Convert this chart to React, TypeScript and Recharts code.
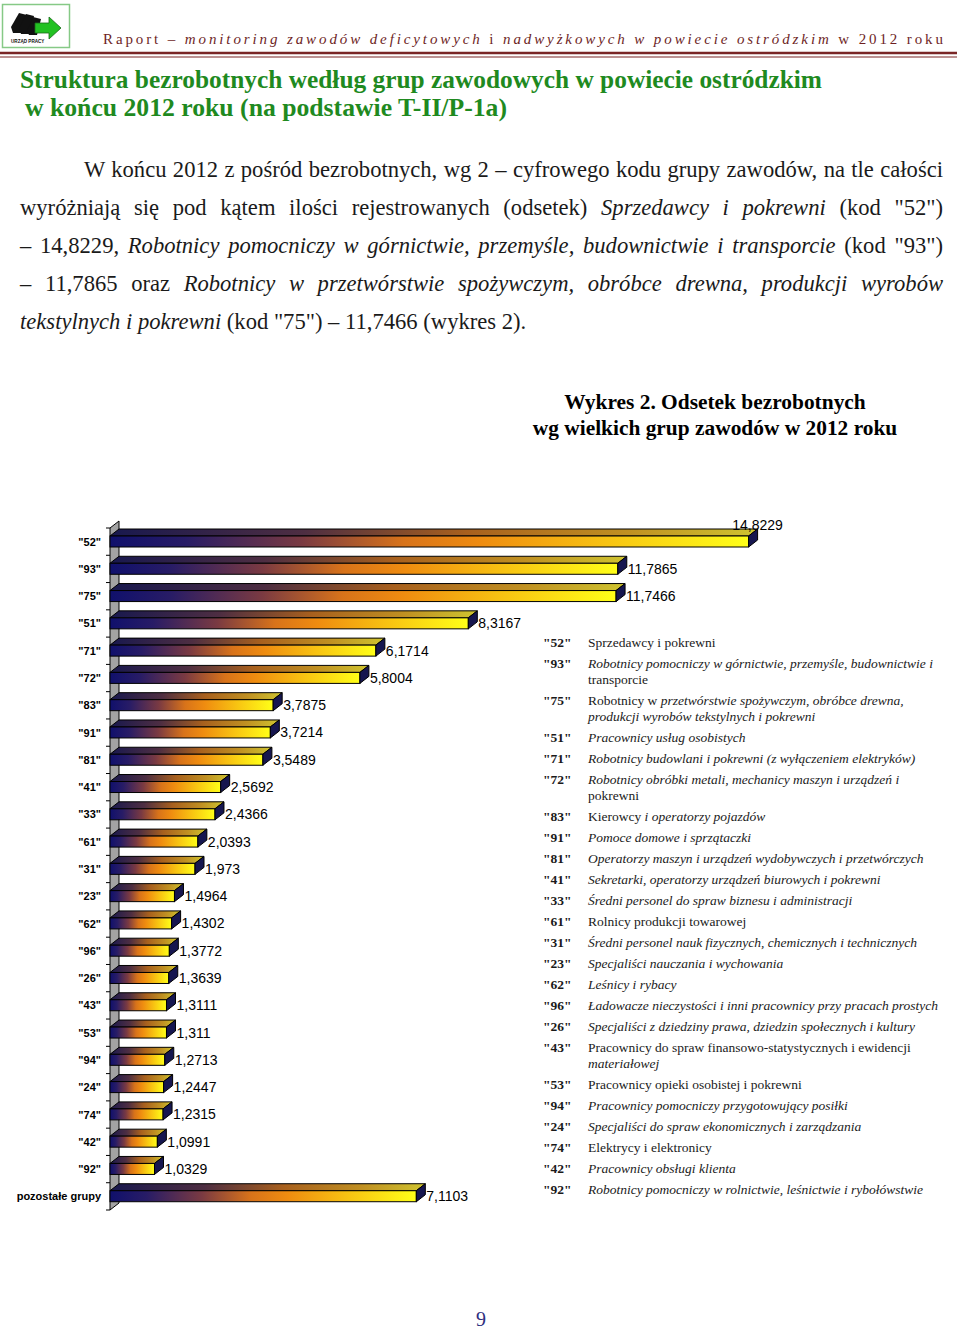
import React from 'react';
import { BarChart, Bar, XAxis, YAxis, ReferenceArea, LabelList } from 'recharts';

// ---------- DATA ----------
const categories = [
  '"52"', '"93"', '"75"', '"51"', '"71"', '"72"', '"83"', '"91"', '"81"', '"41"',
  '"33"', '"61"', '"31"', '"23"', '"62"', '"96"', '"26"', '"43"', '"53"', '"94"',
  '"24"', '"74"', '"42"', '"92"', 'pozostałe grupy',
];
const values = [
  14.8229, 11.7865, 11.7466, 8.3167, 6.1714, 5.8004, 3.7875, 3.7214, 3.5489, 2.5692,
  2.4366, 2.0393, 1.973, 1.4964, 1.4302, 1.3772, 1.3639, 1.3111, 1.311, 1.2713,
  1.2447, 1.2315, 1.0991, 1.0329, 7.1103,
];
const X_MAX = 15.9;

type Seg = [string, boolean]; // [text, italic]
const legendCodes = [
  '"52"', '"93"', '"75"', '"51"', '"71"', '"72"', '"83"', '"91"', '"81"', '"41"',
  '"33"', '"61"', '"31"', '"23"', '"62"', '"96"', '"26"', '"43"', '"53"', '"94"',
  '"24"', '"74"', '"42"', '"92"',
];
const legendTexts: Seg[][] = [
  [['Sprzedawcy i pokrewni', false]],
  [['Robotnicy pomocniczy w górnictwie, przemyśle, budownictwie i', true], ['\n', false], ['transporcie', false]],
  [['Robotnicy w ', false], ['przetwórstwie spożywczym, obróbce drewna,', true], ['\n', false], ['produkcji wyrobów tekstylnych i pokrewni', true]],
  [['Pracownicy usług osobistych', true]],
  [['Robotnicy budowlani i pokrewni (z wyłączeniem elektryków)', true]],
  [['Robotnicy obróbki metali, mechanicy maszyn i urządzeń i', true], ['\n', false], ['pokrewni', false]],
  [['Kierowcy ', false], ['i operatorzy pojazdów', true]],
  [['Pomoce domowe i sprzątaczki', true]],
  [['Operatorzy maszyn i urządzeń wydobywczych i przetwórczych', true]],
  [['Sekretarki, operatorzy urządzeń biurowych i pokrewni', true]],
  [['Średni personel do spraw  biznesu i administracji', true]],
  [['Rolnicy produkcji towarowej', false]],
  [['Średni personel nauk fizycznych, chemicznych i technicznych', true]],
  [['Specjaliści nauczania i wychowania', true]],
  [['Leśnicy i rybacy', true]],
  [['Ładowacze nieczystości i inni pracownicy przy pracach prostych', true]],
  [['Specjaliści z dziedziny prawa, dziedzin społecznych i kultury', true]],
  [['Pracownicy do spraw finansowo-statystycznych i ewidencji', false], ['\n', false], ['materiałowej', true]],
  [['Pracownicy opieki osobistej i pokrewni', false]],
  [['Pracownicy pomocniczy przygotowujący posiłki', true]],
  [['Specjaliści do spraw ekonomicznych i zarządzania', true]],
  [['Elektrycy i elektronicy', false]],
  [['Pracownicy obsługi klienta', true]],
  [['Robotnicy pomocniczy w rolnictwie, leśnictwie i rybołówstwie', true]],
];

const bodyLines: Seg[][] = [
  [['W końcu 2012 z pośród bezrobotnych, wg 2 – cyfrowego kodu grupy zawodów, na tle całości', false]],
  [['wyróżniają się pod kątem ilości rejestrowanych (odsetek) ', false], ['Sprzedawcy i pokrewni', true], [' (kod "52")', false]],
  [['– 14,8229, ', false], ['Robotnicy pomocniczy w górnictwie, przemyśle, budownictwie i transporcie', true], [' (kod "93")', false]],
  [['– 11,7865 oraz ', false], ['Robotnicy w przetwórstwie spożywczym, obróbce drewna, produkcji wyrobów', true]],
  [['tekstylnych i pokrewni', true], [' (kod "75") – 11,7466 (wykres 2).', false]],
];

const headerSegs: Seg[] = [
  ['Raport – ', false], ['monitoring zawodów deficytowych', true], [' i ', false],
  ['nadwyżkowych w powiecie ostródzkim', true], [' w 2012 roku', false],
];
const titleLines = [
  'Struktura bezrobotnych według grup zawodowych w powiecie ostródzkim',
  'w końcu 2012 roku (na podstawie T-II/P-1a)',
];
const chartTitle = ['Wykres 2. Odsetek bezrobotnych', 'wg wielkich grup zawodów w 2012 roku'];
const pageNumber = '9';

const data = categories.map((name, i) => ({ name, value: values[i] }));

// ---------- 3D helpers ----------
const DX = 9;
const DY = 7;

const Bar3D = (props: any) => {
  const { x, y, width, height } = props;
  if (width == null || height == null) return null;
  const top = `M${x},${y} L${x + DX},${y - DY} L${x + width + DX},${y - DY} L${x + width},${y} Z`;
  const side = `M${x + width},${y} L${x + width + DX},${y - DY} L${x + width + DX},${y + height - DY} L${x + width},${y + height} Z`;
  return (
    <g>
      <path d={top} fill="url(#gTop)" stroke="#000" strokeWidth={1} strokeLinejoin="round" />
      <rect x={x} y={y} width={width} height={height} fill="url(#gFront)" stroke="#000" strokeWidth={1} />
      <path d={side} fill="#16164f" stroke="#000" strokeWidth={1} strokeLinejoin="round" />
    </g>
  );
};

const Wall = (props: any) => {
  const { x, y, height } = props;
  const n = categories.length;
  const ticks = [];
  for (let k = 0; k <= n; k++) {
    const yk = y + (height * k) / n;
    ticks.push(<line key={k} x1={x - 4} y1={yk} x2={x} y2={yk} stroke="#000" strokeWidth={1} />);
  }
  const d = `M${x},${y + height} L${x + DX},${y + height - DY} L${x + DX},${y - DY} L${x},${y} Z`;
  return (
    <g>
      <path d={d} fill="#a3a3a3" stroke="#000" strokeWidth={1} />
      {ticks}
    </g>
  );
};

const fmt = (v: number) => String(v).replace('.', ',');

const ValueLabel = (props: any) => {
  const { x, y, width, height, value } = props;
  const endX = x + width + DX;
  if (value / X_MAX > 0.9) {
    return (
      <text x={endX} y={y - DY - 4} textAnchor="middle" dominantBaseline="central"
        fontFamily="Liberation Sans, Arial" fontSize={14} fill="#000">{fmt(value)}</text>
    );
  }
  return (
    <text x={endX + 1} y={y + height / 2} textAnchor="start" dominantBaseline="central"
      fontFamily="Liberation Sans, Arial" fontSize={14} fill="#000">{fmt(value)}</text>
  );
};

const CatTick = (props: any) => {
  const { x, y, payload } = props;
  return (
    <text x={x} y={y} textAnchor="end" dominantBaseline="central"
      fontFamily="Liberation Sans, Arial" fontWeight="bold" fontSize={11} fill="#000">
      {payload.value}
    </text>
  );
};

const renderSegs = (segs: Seg[]) =>
  segs.map((s, i) =>
    s[0] === '\n' ? <br key={i} /> : (
      <span key={i} style={{ fontStyle: s[1] ? 'italic' : 'normal' }}>{s[0]}</span>
    ));

const Logo = () => (
  <svg width={72} height={50} style={{ position: 'absolute', left: 1, top: 3 }}>
    <rect x={1.5} y={1.5} width={67} height={43} fill="#fff" stroke="#86c986" strokeWidth={1.5} />
    <polygon points="10,24 18,10 26,12 20,30 12,30" fill="#111" />
    <polygon points="18,26 25,11 33,13 28,31 20,31" fill="#111" />
    <polygon points="26,28 32,14 40,16 36,32 28,32" fill="#111" />
    <polygon points="34,20 48,20 48,14 60,25 48,36 48,30 34,30" fill="#22c122" stroke="#1a6a1a" strokeWidth={0.8} />
    <text x={10} y={40} fontFamily="Liberation Sans, Arial" fontWeight="bold" fontSize={4.6} fill="#111">URZĄD PRACY</text>
  </svg>
);

export default function App() {
  return (
    <div style={{ position: 'absolute', left: 0, top: 0, width: 960, height: 1335, background: '#fff', overflow: 'hidden' }}>
      <Logo />
      {/* Header */}
      <svg width={960} height={62} style={{ position: 'absolute', left: 0, top: 0 }}>
        <text x={103} y={44} textLength={840} lengthAdjust="spacing"
          fontFamily="Liberation Serif, Times New Roman" fontSize={15} fill="#6e1f1f">
          {headerSegs.map((s, i) => (
            <tspan key={i} fontStyle={s[1] ? 'italic' : 'normal'}>{s[0]}</tspan>
          ))}
        </text>
        <line x1={0} y1={53} x2={957} y2={53} stroke="#7a2626" strokeWidth={2.5} />
        <line x1={0} y1={57} x2={957} y2={57} stroke="#7a2626" strokeWidth={1} />
      </svg>
      {/* Title */}
      <svg width={960} height={130} style={{ position: 'absolute', left: 0, top: 0 }}>
        <text x={20} y={88} textLength={802} lengthAdjust="spacingAndGlyphs"
          fontFamily="Liberation Serif, Times New Roman" fontWeight="bold" fontSize={26} fill="#1f8a1f">{titleLines[0]}</text>
        <text x={25} y={116} textLength={482} lengthAdjust="spacingAndGlyphs"
          fontFamily="Liberation Serif, Times New Roman" fontWeight="bold" fontSize={26} fill="#1f8a1f">{titleLines[1]}</text>
      </svg>
      {/* Body paragraph */}
      <div style={{ position: 'absolute', left: 20, top: 151, width: 923, fontFamily: 'Liberation Serif, Times New Roman', fontSize: 22.6, color: '#1a1a1a' }}>
        {bodyLines.map((line, i) => (
          <div key={i} style={{
            height: 38, lineHeight: '38px', overflow: 'visible',
            paddingLeft: i === 0 ? 64 : 0,
            textAlign: i === bodyLines.length - 1 ? 'left' : 'justify',
            textAlignLast: i === bodyLines.length - 1 ? 'left' : 'justify',
          } as React.CSSProperties}>
            {renderSegs(line)}
          </div>
        ))}
      </div>
      {/* Chart title */}
      <div style={{ position: 'absolute', left: 465, top: 389, width: 500, textAlign: 'center', fontFamily: 'Liberation Serif, Times New Roman', fontWeight: 'bold', fontSize: 21.4, lineHeight: '26px', color: '#000' }}>
        <div>{chartTitle[0]}</div>
        <div>{chartTitle[1]}</div>
      </div>
      {/* Chart */}
      <div style={{ position: 'absolute', left: 0, top: 505 }}>
        <BarChart width={800} height={720} data={data} layout="vertical"
          margin={{ top: 23, right: 5, bottom: 15, left: 0 }}>
          <defs>
            <linearGradient id="gFront" x1="0" y1="0" x2="1" y2="0">
              <stop offset="0%" stopColor="#10106c" />
              <stop offset="12%" stopColor="#281c66" />
              <stop offset="30%" stopColor="#7a3a42" />
              <stop offset="46%" stopColor="#d8731a" />
              <stop offset="58%" stopColor="#ef8c10" />
              <stop offset="78%" stopColor="#f8c412" />
              <stop offset="100%" stopColor="#ffff18" />
            </linearGradient>
            <linearGradient id="gTop" x1="0" y1="0" x2="1" y2="0">
              <stop offset="0%" stopColor="#18184e" />
              <stop offset="30%" stopColor="#4e2e42" />
              <stop offset="55%" stopColor="#a8601e" />
              <stop offset="80%" stopColor="#c09022" />
              <stop offset="100%" stopColor="#cfc430" />
            </linearGradient>
          </defs>
          <XAxis type="number" domain={[0, X_MAX]} hide />
          <YAxis type="category" dataKey="name" width={110} interval={0}
            tickLine={false} axisLine={false} tickSize={6} tickMargin={3} tick={<CatTick />} />
          <ReferenceArea x1={0} x2={0.01} ifOverflow="visible" shape={(p: any) => <Wall {...p} />} />
          <Bar dataKey="value" barSize={11} isAnimationActive={false} shape={(p: any) => <Bar3D {...p} />}>
            <LabelList dataKey="value" content={(p: any) => <ValueLabel {...p} />} />
          </Bar>
        </BarChart>
      </div>
      {/* Legend */}
      <div style={{ position: 'absolute', left: 543, top: 634.5, width: 410, fontFamily: 'Liberation Serif, Times New Roman', fontSize: 13.5, lineHeight: '16px', color: '#1a1a1a' }}>
        {legendCodes.map((code, i) => (
          <div key={code} style={{ display: 'flex', marginBottom: 5 }}>
            <div style={{ width: 45, flex: 'none', fontWeight: 'bold' }}>{code}</div>
            <div style={{ flex: 1 }}>{renderSegs(legendTexts[i])}</div>
          </div>
        ))}
      </div>
      {/* Page number */}
      <div style={{ position: 'absolute', left: 441, top: 1308, width: 80, textAlign: 'center', fontFamily: 'Liberation Serif, Times New Roman', fontSize: 20, color: '#2e2e7e' }}>
        {pageNumber}
      </div>
    </div>
  );
}
